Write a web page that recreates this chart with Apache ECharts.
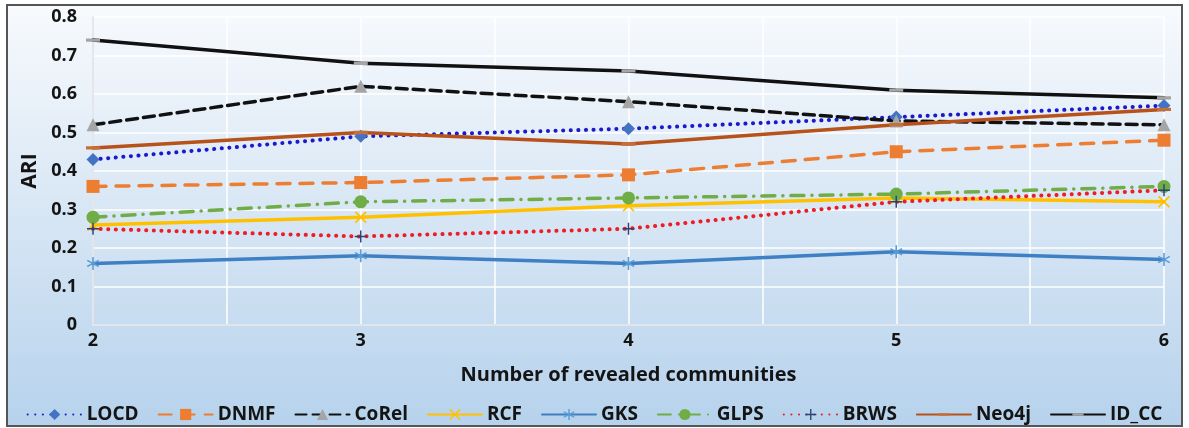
<!DOCTYPE html>
<html>
<head>
<meta charset="utf-8">
<script src="https://cdn.jsdelivr.net/npm/echarts@6/dist/echarts.min.js"></script>
<style>
  html, body { margin: 0; padding: 0; background: #ffffff; }
  #chart { width: 1189px; height: 428px; }
</style>
</head>
<body>
<div id="chart"></div>
<script>
// Number of revealed communities (x positions)
const communities = [2, 3, 4, 5, 6];
const yTicks = [0, 0.1, 0.2, 0.3, 0.4, 0.5, 0.6, 0.7, 0.8];

// ARI per method
const locd  = [0.43, 0.49, 0.51, 0.54, 0.57];
const dnmf  = [0.36, 0.37, 0.39, 0.45, 0.48];
const corel = [0.52, 0.62, 0.58, 0.53, 0.52];
const rcf   = [0.26, 0.28, 0.31, 0.33, 0.32];
const gks   = [0.16, 0.18, 0.16, 0.19, 0.17];
const glps  = [0.28, 0.32, 0.33, 0.34, 0.36];
const brws  = [0.25, 0.23, 0.25, 0.32, 0.35];
const neo4j = [0.46, 0.50, 0.47, 0.52, 0.56];
const idcc  = [0.74, 0.68, 0.66, 0.61, 0.59];

const pair = vals => communities.map((c, i) => [c, vals[i]]);

// Marker shapes
const X_MARK = 'path://M0,1 L1,0 L5,4 L9,0 L10,1 L6,5 L10,9 L9,10 L5,6 L1,10 L0,9 L4,5 Z';
const STAR_MARK = 'path://M4.4,0 H5.6 V4.1 L9.1,2.1 L9.7,3.1 L6.2,5 L9.7,6.9 L9.1,7.9 L5.6,5.9 V10 H4.4 V5.9 L0.9,7.9 L0.3,6.9 L3.8,5 L0.3,3.1 L0.9,2.1 L4.4,4.1 Z';
const PLUS_MARK = 'path://M4.4,0 H5.6 V4.4 H10 V5.6 H5.6 V10 H4.4 V5.6 H0 V4.4 H4.4 Z';
// horizontal dash inside a square box (tiny corner specks keep the box square)
const DASH_MARK = 'path://M0,0 H0.01 V0.01 Z M0,5.3 H14 V8.7 H0 Z M13.99,13.99 H14 V14 Z';

const FONT = '"Open Sans", Lato, sans-serif';
const INK = '#141414';

const chart = echarts.init(document.getElementById('chart'), null, { renderer: 'canvas' });

function line(name, data, color, lineType, symbol, symbolSize, symbolColor, width) {
  return {
    name: name,
    type: 'line',
    data: pair(data),
    symbol: symbol,
    symbolSize: symbolSize,
    symbolKeepAspect: true,
    lineStyle: { color: color, width: width || 3.5, type: lineType, cap: 'round' },
    itemStyle: { color: symbolColor || color, borderWidth: 0 },
    emphasis: { disabled: true },
    animation: false
  };
}

const option = {
  backgroundColor: '#ffffff',
  graphic: [{
    type: 'rect',
    z: -10,
    shape: { x: 7, y: 5, width: 1175, height: 421 },
    style: {
      fill: new echarts.graphic.LinearGradient(0, 0, 0, 1, [
        { offset: 0, color: '#f8fafd' },
        { offset: 1, color: '#b6d2ec' }
      ]),
      stroke: '#555555',
      lineWidth: 2
    }
  }],
  grid: { left: 93, right: 25, top: 17, bottom: 103 },
  legend: {
    top: 400,
    left: 'center',
    itemWidth: 54,
    itemHeight: 14,
    itemGap: 19,
    textStyle: { fontFamily: FONT, fontWeight: 'bold', fontSize: 19, color: INK },
    data: ['LOCD', 'DNMF', 'CoRel', 'RCF', 'GKS', 'GLPS', 'BRWS', 'Neo4j', 'ID_CC']
  },
  xAxis: {
    type: 'value',
    min: 2,
    max: 6,
    interval: 0.5,
    name: 'Number of revealed communities',
    nameLocation: 'middle',
    nameGap: 40,
    nameTextStyle: { fontFamily: FONT, fontWeight: 'bold', fontSize: 20, color: INK },
    axisLine: { show: true, lineStyle: { color: '#e2e6ec', width: 2 } },
    axisTick: { show: false },
    axisLabel: {
      margin: 7,
      fontFamily: FONT, fontWeight: 'bold', fontSize: 18, color: INK,
      formatter: v => (Number.isInteger(v) && communities.includes(v)) ? String(v) : ''
    },
    splitLine: { show: true, lineStyle: { color: '#ffffff', width: 1.5 } }
  },
  yAxis: {
    type: 'value',
    min: 0,
    max: 0.8,
    interval: 0.1,
    name: 'ARI',
    nameLocation: 'middle',
    nameGap: 49,
    nameTextStyle: { fontFamily: FONT, fontWeight: 'bold', fontSize: 21, color: INK },
    axisLine: { show: true, lineStyle: { color: '#dcdfe4', width: 1.5 } },
    axisTick: { show: false },
    axisLabel: {
      margin: 16,
      fontFamily: FONT, fontWeight: 'bold', fontSize: 18, color: INK,
      formatter: v => {
        const t = yTicks.find(k => Math.abs(k - v) < 1e-9);
        return t === 0 ? '0' : String(t);
      }
    },
    splitLine: { show: true, lineStyle: { color: '#ffffff', width: 1.5 } }
  },
  series: [
    line('LOCD', locd, '#1a1acc', [0.1, 7.5], 'diamond', 13, '#4472c4', 4),
    line('DNMF', dnmf, '#ed7d31', [13, 10], 'rect', 13, '#ed7d31'),
    line('CoRel', corel, '#111111', [11, 6], 'triangle', 13, '#a5a5a5'),
    line('RCF', rcf, '#ffc000', 'solid', X_MARK, 12, '#ffc000'),
    line('GKS', gks, '#3f7fc4', 'solid', STAR_MARK, 13, '#5b9bd5'),
    line('GLPS', glps, '#70ad47', [13, 8, 0.1, 8], 'circle', 13, '#70ad47'),
    line('BRWS', brws, '#ee1c24', [0.1, 7.5], PLUS_MARK, 12, '#264478', 4),
    line('Neo4j', neo4j, '#b6521a', 'solid', DASH_MARK, 14, '#c5703a'),
    line('ID_CC', idcc, '#111111', 'solid', DASH_MARK, 14, '#a5a5a5')
  ]
};

chart.setOption(option);
</script>
</body>
</html>
